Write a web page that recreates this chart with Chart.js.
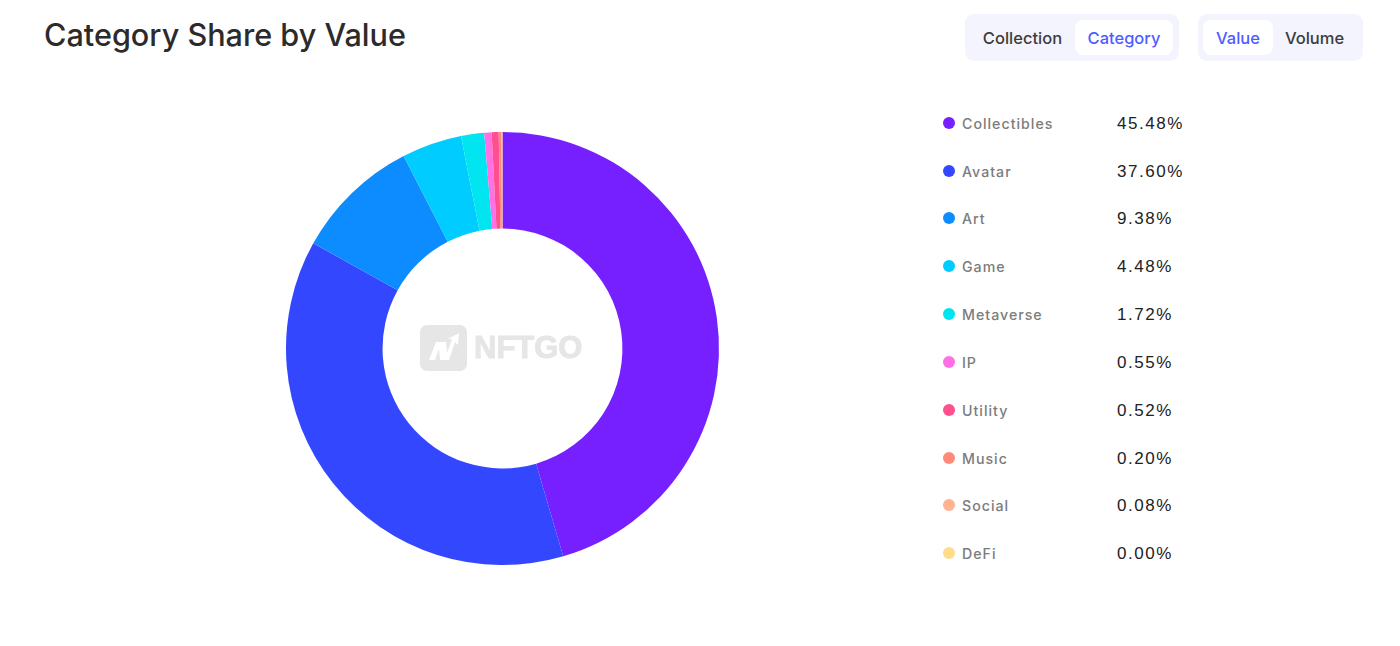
<!DOCTYPE html>
<html>
<head>
<meta charset="utf-8">
<title>Category Share by Value</title>
<script src="https://cdn.jsdelivr.net/npm/chart.js@4"></script>
<style>
    html, body { margin: 0; padding: 0; background: #fff; }
    body { width: 1400px; height: 646px; position: relative; overflow: hidden; font-family: Inter, sans-serif; }
    h1 { position: absolute; left: 44px; top: 13px; margin: 0; font-size: 30.6px; line-height: 44px; font-weight: 500; color: #2b2b2b; white-space: nowrap; }
    .switch { position: absolute; top: 14px; height: 47px; background: #f3f4fd; border-radius: 9px; }
    .switch span { position: absolute; top: 6px; height: 35px; line-height: 37px; text-align: center; font-size: 16.5px; font-weight: 500; color: #3c3c3c; border-radius: 8px; }
    .switch span.active { background: #fff; color: #4f5dff; }
    #chart-box { position: absolute; left: 253px; top: 99px; width: 499px; height: 499px; }
    #logo { position: absolute; left: 420px; top: 325px; width: 170px; height: 46px; }
    #logo b { position: absolute; left: 54px; top: 3px; font-family: "Liberation Sans", sans-serif; font-size: 31px; line-height: 40px; font-weight: 700; color: #e6e6e6; -webkit-text-stroke: 1px #e6e6e6; }
    .legend-row { position: absolute; left: 943px; height: 24px; line-height: 24px; white-space: nowrap; }
    .legend-row i { position: absolute; left: 0; top: 6px; width: 12px; height: 12px; border-radius: 50%; }
    .legend-row .name { position: absolute; left: 19px; top: 1px; font-size: 14.2px; font-weight: 500; color: #7c7c7c; letter-spacing: 1px; }
    .legend-row .pct { position: absolute; left: 174px; top: 1px; font-family: "Liberation Sans", sans-serif; font-size: 17px; color: #222; letter-spacing: 1.55px; }
</style>
</head>
<body>
<h1>Category Share by Value</h1>
<div class="switch" style="left:965px;width:214px">
    <span style="left:9px;width:97px">Collection</span>
    <span class="active" style="left:110px;width:98px">Category</span>
</div>
<div class="switch" style="left:1198px;width:165px">
    <span class="active" style="left:5px;width:70px">Value</span>
    <span style="left:79px;width:75px">Volume</span>
</div>
<div id="chart-box"><canvas id="share-chart" width="499" height="499"></canvas></div>
<div id="logo">
    <svg width="47" height="46" viewBox="0 0 47 46">
        <rect x="0" y="0" width="47" height="46" rx="7" fill="#e6e6e6"/>
        <path d="M9 35 L16 17 L26 17 L27 28 L32 14 L28 14 L39 8 L38 20 L35 17 L29 35 L20 35 L19 24 L15 35 Z" fill="#fff"/>
    </svg>
    <b>NFTGO</b>
</div>
<div id="legend"></div>

<script>
// Dados
const categories = ['Collectibles', 'Avatar', 'Art', 'Game', 'Metaverse', 'IP', 'Utility', 'Music', 'Social', 'DeFi'];
const shares = [45.48, 37.60, 9.38, 4.48, 1.72, 0.55, 0.52, 0.20, 0.08, 0.00];
const colors = ['#7620ff', '#3347ff', '#0d8cff', '#00ccff', '#00e5f0', '#ff70e5', '#ff4f8f', '#ff8a7a', '#ffb38f', '#ffdc8a'];
const legendTops = [111, 159, 206, 254, 302, 350, 398, 446, 493, 541];

// Legenda em HTML, ao lado do gráfico
const legend = document.getElementById('legend');
categories.forEach((name, i) => {
    const row = document.createElement('div');
    row.className = 'legend-row';
    row.style.top = legendTops[i] + 'px';
    row.innerHTML = '<i style="background:' + colors[i] + '"></i>' +
        '<span class="name">' + name + '</span>' +
        '<span class="pct">' + shares[i].toFixed(2) + '%</span>';
    legend.appendChild(row);
});

new Chart(document.getElementById('share-chart'), {
    type: 'doughnut',
    data: {
        labels: categories,
        datasets: [{
            data: shares,
            backgroundColor: colors,
            borderWidth: 0
        }]
    },
    options: {
        responsive: false,
        animation: false,
        radius: 216.5,
        cutout: '55.4%',
        plugins: {
            legend: { display: false },
            tooltip: { enabled: false }
        }
    }
});
</script>
</body>
</html>
